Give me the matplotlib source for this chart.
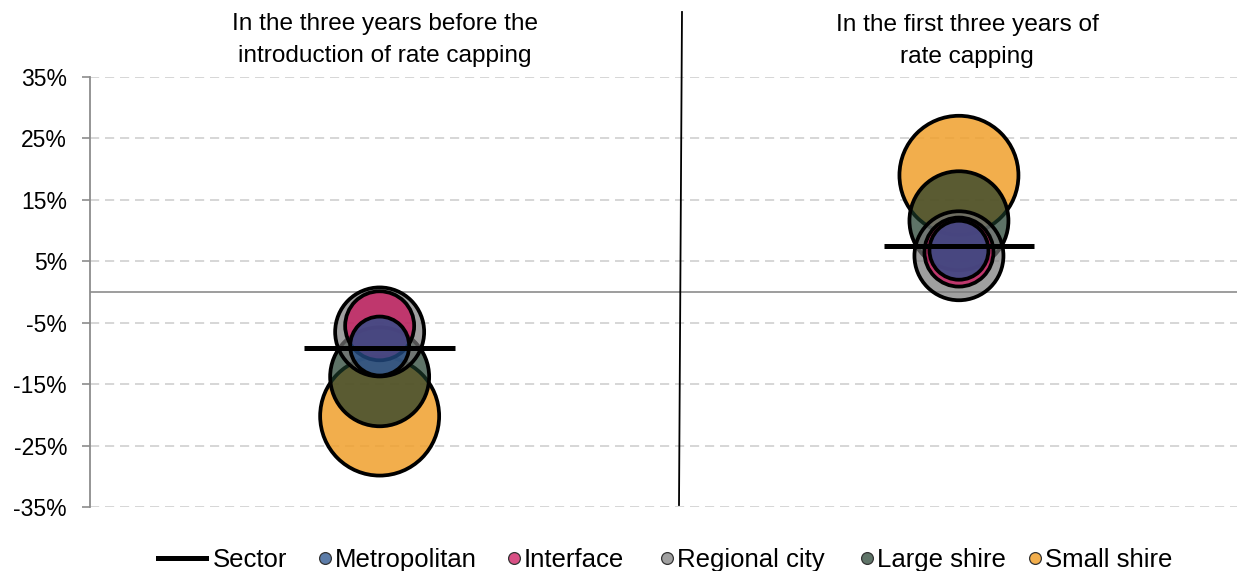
#!/usr/bin/env python3
"""Rate capping bubble chart: change by council group, before / during capping"""
import matplotlib
matplotlib.use('Agg')
import matplotlib.pyplot as plt
import matplotlib.colors as mc
from matplotlib.lines import Line2D
from matplotlib import font_manager

# ---- data ----
periods = ['In the three years before the\nintroduction of rate capping',
           'In the first three years of\nrate capping']
groups = ['Metropolitan', 'Interface', 'Regional city', 'Large shire', 'Small shire']
before = [-8.8, -5.5, -6.5, -13.8, -20.2]      # % change
during = [6.8, 6.5, 5.9, 11.6, 19.0]
sector = [-9.1, 7.5]
bubble_weight = [31, 36, 46, 51, 61]           # relative bubble size
yticks = [-35, -25, -15, -5, 5, 15, 25, 35]

colors = {'Metropolitan': '#25508b', 'Interface': '#cb155d', 'Regional city': '#777777',
          'Large shire': '#1a3827', 'Small shire': '#f0a02d'}
alphas = {'Metropolitan': 0.75, 'Interface': 0.75, 'Regional city': 0.7,
          'Large shire': 0.7, 'Small shire': 0.85}

names = {f.name for f in font_manager.fontManager.ttflist}
base = 'Liberation Sans' if 'Liberation Sans' in names else 'DejaVu Sans'
plt.rcParams['font.family'] = [base, 'DejaVu Sans']

W, H = 1240, 571
fig = plt.figure(figsize=(W / 100, H / 100), dpi=100)
ax = fig.add_axes([90 / W, 1 - 507 / H, (1237 - 90) / W, 430 / H])

ax.set_ylim(-35, 35)
ax.set_xlim(0.5, 2.48)
ax.set_yticks(yticks)
ax.set_yticklabels([f'{t}%' for t in yticks], fontsize=16.5)
ax.set_xticks([])
ax.tick_params(axis='y', length=6, width=1.2, color='#8c8c8c', direction='out', pad=10.5)
for s in ['top', 'right', 'bottom']:
    ax.spines[s].set_visible(False)
ax.spines['left'].set_color('#8c8c8c')
ax.spines['left'].set_linewidth(1.3)
ax.yaxis.grid(True, ls=(0, (5.5, 3.5)), color='#cfcfcf', lw=1.2)
ax.set_axisbelow(True)
ax.axhline(0, color='#8c8c8c', lw=1.2, zorder=1)

xs = [1, 2]
for xi, vals in zip(xs, [before, during]):
    # big bubbles first so the small ones sit on top
    order = sorted(range(len(groups)), key=lambda i: -bubble_weight[i])
    for z, i in enumerate(order):
        g = groups[i]
        d_pt = 2 * (bubble_weight[i] - 1.5) * 0.72
        ax.scatter(xi, vals[i], s=d_pt ** 2, color=colors[g], alpha=alphas[g],
                   edgecolors='none', zorder=3 + z)
        ax.scatter(xi, vals[i], s=d_pt ** 2, facecolors='none', edgecolors='black',
                   linewidths=2.7, zorder=3 + z)
for xi, sv in zip(xs, sector):
    ax.hlines(sv, xi - 0.13, xi + 0.13, color='black', lw=3.6, zorder=20)

# period headings (baseline of the last line)
for (cx, by), lab in zip([(385, 62), (967, 63)], periods):
    fig.text(cx / W, 1 - by / H, lab, ha='center', va='baseline', fontsize=17.6,
             linespacing=1.58)

# divider line between the two periods
fig.add_artist(Line2D([682 / W, 679 / W], [1 - 12 / H, 1 - 505 / H], color='black', lw=1.3))

# legend, laid out by hand along the bottom
ly = 1 - 558 / H
fig.add_artist(Line2D([158 / W, 206 / W], [ly, ly], color='black', lw=3.6))
fig.text(213 / W, 1 - 567 / H, 'Sector', ha='left', va='baseline', fontsize=18.5)
for g, mx in zip(groups, [325, 514, 667, 867, 1035]):
    r, gg, b = mc.to_rgb(colors[g])
    a = alphas[g]
    fc = (a * r + 1 - a, a * gg + 1 - a, a * b + 1 - a)
    fig.add_artist(Line2D([mx / W], [ly], marker='o', ls='none', markersize=8.5,
                          markerfacecolor=fc, markeredgecolor='#333333', markeredgewidth=0.9))
    fig.text((mx + 10) / W, 1 - 567 / H, g, ha='left', va='baseline', fontsize=18.5)

fig.savefig('out.png', dpi=100)
